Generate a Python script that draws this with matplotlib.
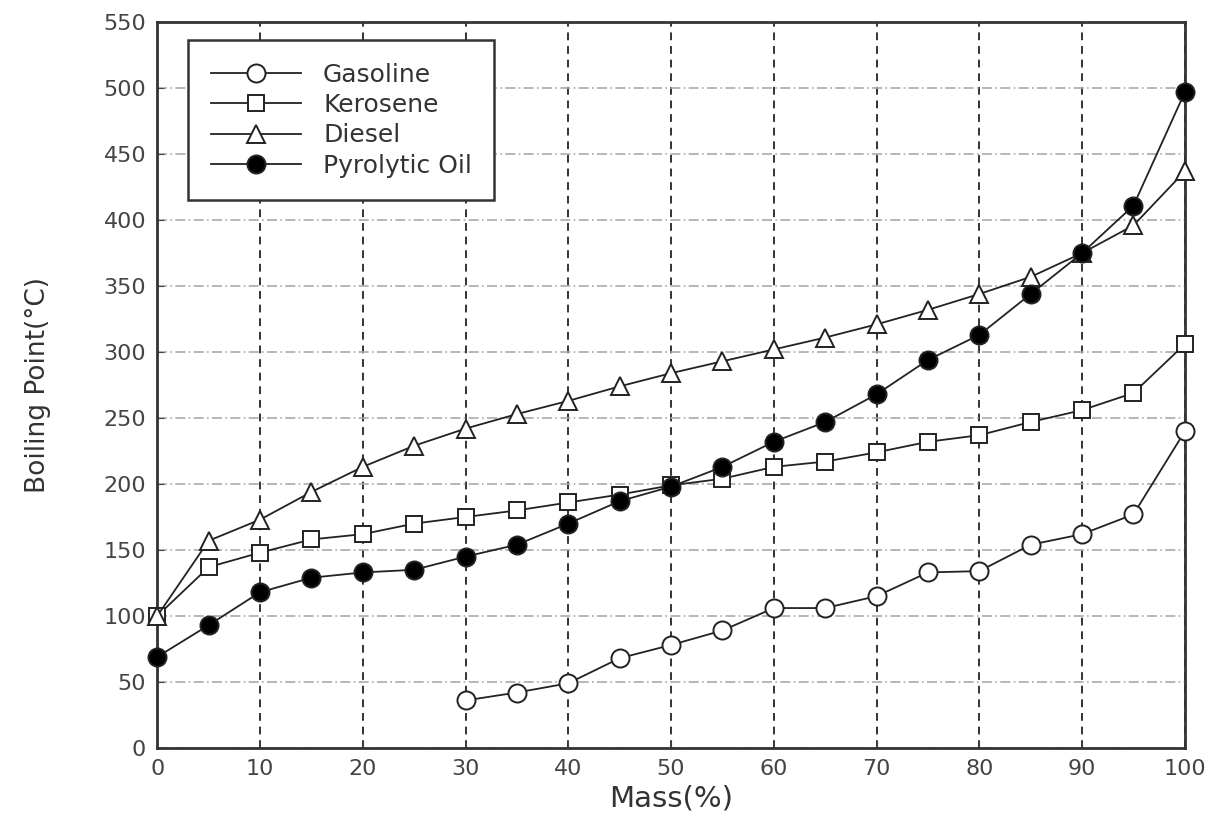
import matplotlib
matplotlib.use('Agg')
import matplotlib.pyplot as plt

plt.rcParams['font.family'] = ['DejaVu Sans']

mass = [0, 5, 10, 15, 20, 25, 30, 35, 40, 45, 50, 55, 60, 65, 70, 75, 80, 85, 90, 95, 100]
mass_gas = mass[6:]

gasoline = [36, 42, 49, 68, 78, 89, 106, 106, 115, 133, 134, 154, 162, 177, 240]
kerosene = [100, 137, 148, 158, 162, 170, 175, 180, 186, 192, 199, 204, 213, 217, 224, 232, 237, 247, 256, 269, 306]
diesel = [100, 157, 173, 194, 213, 229, 242, 253, 263, 274, 284, 293, 302, 311, 321, 332, 344, 357, 375, 396, 437]
pyro = [69, 93, 118, 129, 133, 135, 145, 154, 170, 187, 198, 213, 232, 247, 268, 294, 313, 344, 375, 411, 497]

fig = plt.figure(figsize=(12.19, 8.21), dpi=100)
ax = fig.add_axes([0.129, 0.089, 0.843, 0.884])

ms = 13
common = dict(color='#222', lw=1.3, mec='#222', mew=1.4, clip_on=False)
ax.plot(mass_gas, gasoline, marker='o', ms=ms, mfc='white', label='Gasoline', zorder=3, **common)
ax.plot(mass, kerosene, marker='s', ms=ms - 1.5, mfc='white', label='Kerosene', zorder=3, **common)
ax.plot(mass, diesel, marker='^', ms=ms, mfc='white', label='Diesel', zorder=3, **common)
ax.plot(mass, pyro, marker='o', ms=ms, mfc='black', label='Pyrolytic Oil', zorder=4, **common)

ax.set_xlim(0, 100)
ax.set_ylim(0, 550)
ax.set_xticks(range(0, 101, 10))
ax.set_yticks(range(0, 551, 50))
ax.tick_params(labelsize=16, colors='#444', direction='in', length=5, pad=8)
for sp in ax.spines.values():
    sp.set_linewidth(2)
    sp.set_color('#333')

ax.xaxis.grid(True, linestyle=(0, (4, 3)), color='#333', lw=1.4)
ax.yaxis.grid(True, linestyle=(0, (6, 2, 1, 2)), color='#aaa', lw=1.2)

ax.set_xlabel('Mass(%)', fontsize=21, color='#333', labelpad=4)
ax.set_ylabel('Boiling Point(°C)', fontsize=19, color='#333', labelpad=38)

leg = ax.legend(loc='upper left', bbox_to_anchor=(0.03, 0.975), fontsize=18, frameon=True,
                fancybox=False, edgecolor='#333', framealpha=1, handlelength=3.6,
                borderpad=0.9, labelspacing=0.25, handletextpad=0.9, borderaxespad=0)
leg.get_frame().set_linewidth(1.8)
for t in leg.get_texts():
    t.set_color('#333')

fig.savefig('out.png', dpi=100)
